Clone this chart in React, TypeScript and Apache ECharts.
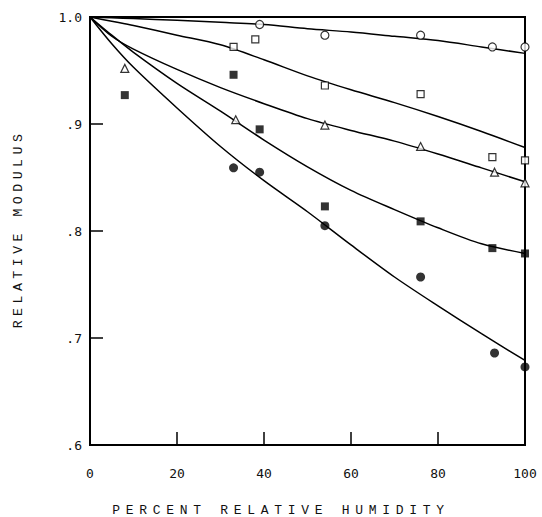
import React, { useEffect, useRef } from "react";
import * as echarts from "echarts";

// Fitted curves
const curveX = [0, 5, 10, 20, 30, 40, 50, 60, 70, 80, 90, 100];
const fitOpenCircle = [1.0, 0.9993, 0.9985, 0.997, 0.995, 0.993, 0.989, 0.986, 0.982, 0.978, 0.972, 0.966];
const fitOpenSquare = [1.0, 0.996, 0.992, 0.983, 0.974, 0.96, 0.945, 0.932, 0.92, 0.907, 0.893, 0.878];
const fitTriangle = [1.0, 0.982, 0.97, 0.951, 0.934, 0.919, 0.905, 0.894, 0.884, 0.872, 0.859, 0.846];
const fitFilledSquare = [1.0, 0.983, 0.967, 0.938, 0.912, 0.885, 0.86, 0.838, 0.82, 0.803, 0.788, 0.779];
const fitFilledCircle = [1.0, 0.975, 0.953, 0.915, 0.879, 0.847, 0.818, 0.787, 0.757, 0.73, 0.704, 0.679];

// Measured points
const openCircleX = [39, 54, 76, 92.5, 100];
const openCircleY = [0.993, 0.983, 0.983, 0.972, 0.972];
const openSquareX = [33, 38, 54, 76, 92.5, 100];
const openSquareY = [0.972, 0.979, 0.936, 0.928, 0.869, 0.866];
const triangleX = [8, 33.5, 54, 76, 93, 100];
const triangleY = [0.952, 0.904, 0.899, 0.879, 0.855, 0.845];
const filledSquareX = [8, 33, 39, 54, 76, 92.5, 100];
const filledSquareY = [0.927, 0.946, 0.895, 0.823, 0.809, 0.784, 0.779];
const filledCircleX = [33, 39, 54, 76, 93, 100];
const filledCircleY = [0.859, 0.855, 0.805, 0.757, 0.686, 0.673];

const xTickLabels = ["0", "20", "40", "60", "80", "100"];
const yTickValues = [6, 7, 8, 9, 10];
const yTickLabels = [".6", ".7", ".8", ".9", "1.0"];

const xTitle = "PERCENT RELATIVE HUMIDITY";
const yTitle = "RELATIVE MODULUS";

const zip = (xs: number[], ys: number[]) => xs.map((x, i) => [x, ys[i]]);

export default function App() {
  const ref = useRef<HTMLDivElement>(null);
  useEffect(() => {
    if (!ref.current) return;
    const chart = echarts.init(ref.current, undefined, { renderer: "svg" });
    const lineS = (data: number[]) => ({
      type: "line",
      data: zip(curveX, data),
      smooth: 0.3,
      showSymbol: false,
      symbol: "none",
      lineStyle: { color: "#000", width: 1.5 },
      z: 2,
    });
    const scat = (xs: number[], ys: number[], symbol: string, size: number, filled: boolean) => ({
      type: "scatter",
      data: zip(xs, ys),
      symbol,
      symbolSize: size,
      itemStyle: filled
        ? { color: "#000" }
        : { color: "#fff", borderColor: "#000", borderWidth: 1.2 },
      z: 3,
    });
    const labelFont = "DejaVu Sans Mono";
    chart.setOption({
      animation: false,
      grid: {
        left: 90,
        right: 17,
        top: 17,
        bottom: 72,
        show: true,
        borderColor: "#000",
        borderWidth: 2,
      },
      xAxis: {
        type: "value",
        min: 0,
        max: 100,
        interval: 20,
        axisLine: { lineStyle: { color: "#000", width: 1.8 } },
        axisTick: { inside: true, length: 13, lineStyle: { color: "#000", width: 1.5 } },
        splitLine: { show: false },
        axisLabel: {
          margin: 22,
          fontFamily: labelFont,
          fontSize: 13,
          color: "#111",
          formatter: (v: number) => xTickLabels[Math.round(v / 20)] ?? "",
        },
      },
      yAxis: {
        type: "value",
        min: 0.6,
        max: 1.0,
        interval: 0.1,
        axisLine: { show: true, lineStyle: { color: "#000", width: 1.8 } },
        axisTick: { show: true, inside: true, length: 13, lineStyle: { color: "#000", width: 1.5 } },
        splitLine: { show: false },
        axisLabel: {
          margin: 8,
          fontFamily: labelFont,
          fontSize: 13,
          color: "#111",
          formatter: (v: number) => {
            const i = yTickValues.indexOf(Math.round(v * 10));
            return i >= 0 ? yTickLabels[i] : "";
          },
        },
      },
      graphic: [
        {
          type: "text",
          x: 281,
          y: 510,
          style: {
            text: xTitle,
            font: '13px "Liberation Mono"',
            fill: "#111",
            textAlign: "center",
            textVerticalAlign: "middle",
          },
        },
        {
          type: "text",
          x: 18,
          y: 229,
          rotation: Math.PI / 2,
          style: {
            text: yTitle,
            font: '13.2px "Liberation Mono"',
            fill: "#111",
            textAlign: "center",
            textVerticalAlign: "middle",
          },
        },
      ],
      series: [
        lineS(fitOpenCircle),
        lineS(fitOpenSquare),
        lineS(fitTriangle),
        lineS(fitFilledSquare),
        lineS(fitFilledCircle),
        scat(openCircleX, openCircleY, "circle", 8, false),
        scat(openSquareX, openSquareY, "rect", 7, false),
        scat(triangleX, triangleY, "triangle", 8, false),
        scat(filledSquareX, filledSquareY, "rect", 8, true),
        scat(filledCircleX, filledCircleY, "circle", 9, true),
      ],
    });
    return () => chart.dispose();
  }, []);
  return (
    <>
      <style>{`#root text[style*="Liberation Mono"]{letter-spacing:5.7px} #root text[style*="13.2px"]{letter-spacing:4.5px}`}</style>
      <div
        ref={ref}
        style={{ position: "fixed", left: 0, top: 0, width: 542, height: 517, background: "#fff" }}
      />
    </>
  );
}
